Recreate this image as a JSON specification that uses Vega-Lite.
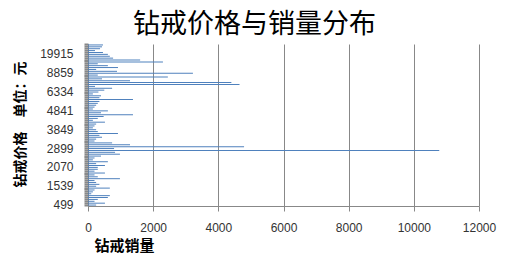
{
  "$schema": "https://vega.github.io/schema/vega-lite/v6.json",
  "width": 391,
  "height": 162,
  "autosize": "none",
  "padding": {"left": 88, "top": 44, "right": 31, "bottom": 48},
  "background": "white",
  "title": {
    "text": "钻戒价格与销量分布",
    "font": "Noto Sans CJK SC",
    "fontSize": 27,
    "fontWeight": "normal",
    "color": "#000000",
    "anchor": "middle",
    "dx": -29,
    "dy": 9,
    "offset": 8
  },
  "data": {
    "values": [
      {"price": 499, "sales": 250},
      {"price": 599, "sales": 520},
      {"price": 680, "sales": 200},
      {"price": 799, "sales": 300},
      {"price": 899, "sales": 610},
      {"price": 999, "sales": 670},
      {"price": 1099, "sales": 100},
      {"price": 1199, "sales": 150},
      {"price": 1299, "sales": 200},
      {"price": 1399, "sales": 670},
      {"price": 1539, "sales": 250},
      {"price": 1599, "sales": 350},
      {"price": 1650, "sales": 250},
      {"price": 1699, "sales": 200},
      {"price": 1780, "sales": 980},
      {"price": 1820, "sales": 300},
      {"price": 1880, "sales": 200},
      {"price": 1920, "sales": 520},
      {"price": 1980, "sales": 200},
      {"price": 1999, "sales": 300},
      {"price": 2070, "sales": 300},
      {"price": 2199, "sales": 520},
      {"price": 2280, "sales": 250},
      {"price": 2399, "sales": 610},
      {"price": 2450, "sales": 150},
      {"price": 2520, "sales": 200},
      {"price": 2599, "sales": 400},
      {"price": 2680, "sales": 980},
      {"price": 2750, "sales": 830},
      {"price": 2799, "sales": 10780},
      {"price": 2899, "sales": 800},
      {"price": 2999, "sales": 4790},
      {"price": 3099, "sales": 1290},
      {"price": 3199, "sales": 740},
      {"price": 3299, "sales": 200},
      {"price": 3399, "sales": 250},
      {"price": 3499, "sales": 430},
      {"price": 3599, "sales": 350},
      {"price": 3699, "sales": 920},
      {"price": 3799, "sales": 300},
      {"price": 3849, "sales": 250},
      {"price": 3999, "sales": 150},
      {"price": 4099, "sales": 200},
      {"price": 4199, "sales": 250},
      {"price": 4299, "sales": 520},
      {"price": 4399, "sales": 150},
      {"price": 4499, "sales": 300},
      {"price": 4599, "sales": 480},
      {"price": 4699, "sales": 1380},
      {"price": 4799, "sales": 400},
      {"price": 4841, "sales": 610},
      {"price": 4999, "sales": 150},
      {"price": 5199, "sales": 200},
      {"price": 5299, "sales": 250},
      {"price": 5499, "sales": 300},
      {"price": 5599, "sales": 350},
      {"price": 5699, "sales": 1380},
      {"price": 5899, "sales": 350},
      {"price": 5999, "sales": 400},
      {"price": 6199, "sales": 150},
      {"price": 6334, "sales": 320},
      {"price": 6599, "sales": 500},
      {"price": 6799, "sales": 740},
      {"price": 6999, "sales": 215},
      {"price": 7199, "sales": 4650},
      {"price": 7499, "sales": 4400},
      {"price": 7699, "sales": 1290},
      {"price": 7999, "sales": 430},
      {"price": 8199, "sales": 2450},
      {"price": 8599, "sales": 300},
      {"price": 8859, "sales": 3220},
      {"price": 8999, "sales": 890},
      {"price": 9499, "sales": 250},
      {"price": 9999, "sales": 920},
      {"price": 10999, "sales": 610},
      {"price": 11999, "sales": 300},
      {"price": 12999, "sales": 2300},
      {"price": 13999, "sales": 1600},
      {"price": 14999, "sales": 770},
      {"price": 16999, "sales": 670},
      {"price": 19915, "sales": 610},
      {"price": 21999, "sales": 460},
      {"price": 24999, "sales": 215},
      {"price": 29999, "sales": 370},
      {"price": 35999, "sales": 430},
      {"price": 49999, "sales": 460}
    ]
  },
  "mark": {"type": "bar", "color": "#4f81bd", "size": 1},
  "encoding": {
    "y": {
      "field": "price",
      "type": "ordinal",
      "sort": "descending",
      "scale": {"paddingInner": 0, "paddingOuter": 0},
      "axis": {
        "title": "钻戒价格　单位：元",
        "titleFont": "Noto Sans CJK SC",
        "titleFontWeight": "bold",
        "titleFontSize": 14,
        "titleColor": "#000000",
        "titleAngle": 270,
        "titleAlign": "center",
        "titleBaseline": "middle",
        "titleX": -68,
        "titleY": 80,
        "grid": false,
        "labelExpr": "indexof([499,1539,2070,2899,3849,4841,6334,8859,19915], datum.value) >= 0 ? datum.label : ''",
        "labelFont": "Liberation Sans",
        "labelFontSize": 12,
        "labelColor": "#333333",
        "labelPadding": 11,
        "labelOverlap": false,
        "labelBound": false,
        "tickSize": 4,
        "tickWidth": 2,
        "tickColor": "#888888",
        "domainColor": "#888888"
      }
    },
    "x": {
      "field": "sales",
      "type": "quantitative",
      "scale": {"domain": [0, 12000], "nice": false},
      "axis": {
        "values": [0, 2000, 4000, 6000, 8000, 10000, 12000],
        "format": "d",
        "title": "钻戒销量",
        "titleFont": "Noto Sans CJK SC",
        "titleFontWeight": "bold",
        "titleFontSize": 15,
        "titleColor": "#000000",
        "titleAlign": "center",
        "titleBaseline": "middle",
        "titleX": 36,
        "titleY": 39,
        "grid": true,
        "gridColor": "#888888",
        "gridOpacity": 1,
        "labelFont": "Liberation Sans",
        "labelFontSize": 12,
        "labelColor": "#333333",
        "labelPadding": 11,
        "labelFlush": false,
        "tickSize": 5,
        "tickColor": "#888888",
        "domainColor": "#888888"
      }
    }
  },
  "config": {"view": {"stroke": null}}
}
